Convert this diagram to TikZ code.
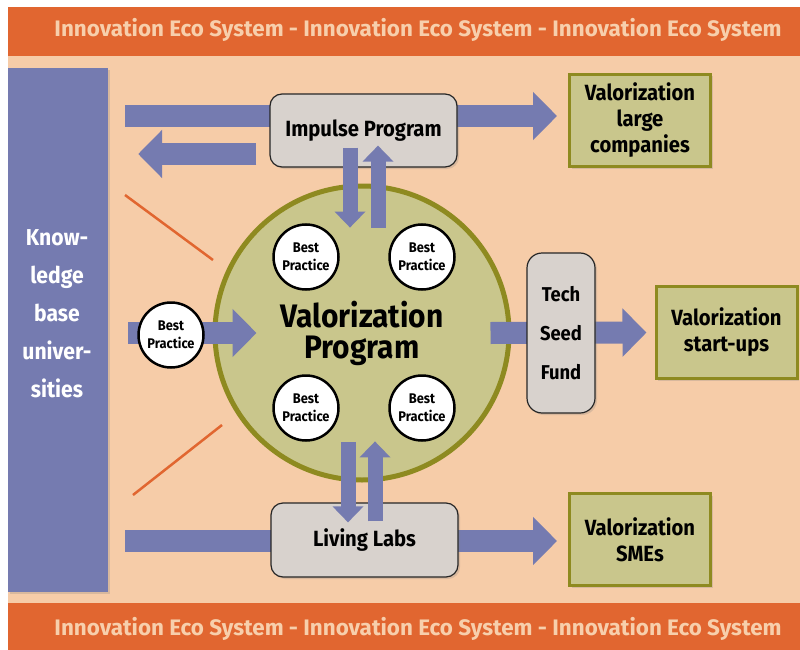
\documentclass[tikz,border=0pt]{standalone}
\usepackage{fontspec}
\setmainfont{Fira Sans}[FakeStretch=0.92]
\newfontfamily\bandfont{Fira Sans}
\usetikzlibrary{arrows.meta,shadows}
\definecolor{bandorange}{RGB}{225,102,48}
\definecolor{peach}{RGB}{246,204,168}
\definecolor{bandtext}{RGB}{247,207,172}
\definecolor{flowblue}{RGB}{117,123,176}
\definecolor{olivefill}{RGB}{201,198,140}
\definecolor{oliveline}{RGB}{142,138,32}
\definecolor{boxgray}{RGB}{216,210,205}
\pgfdeclarelayer{back}
\pgfdeclarelayer{mid}
\pgfdeclarelayer{flows}
\pgfsetlayers{back,mid,flows,main}

\begin{document}
\begin{tikzpicture}[x=1pt, y=-1pt,
  band/.style={text=bandtext, font=\bandfont\fontsize{22.4}{26}\selectfont\bfseries, inner sep=0},
  gbox/.style={draw=black!85, line width=1.2pt, fill=boxgray, rounded corners=12pt, align=center, font=\fontsize{22}{39}\selectfont\bfseries, drop shadow={opacity=0.25, shadow xshift=2pt, shadow yshift=-2pt}},
  obox/.style={draw=oliveline, line width=3pt, fill=olivefill, align=center, minimum width=141, minimum height=92, font=\fontsize{22}{26}\selectfont\bfseries, drop shadow={opacity=0.25, shadow xshift=2pt, shadow yshift=-2pt}},
  bp/.style={circle, draw=black, line width=2.5pt, fill=white, minimum size=65, inner sep=0, align=center, font=\fontsize{14}{18}\selectfont\bfseries},
  flowh/.style={draw=flowblue, line width=22pt, -{Triangle[length=24pt,width=47pt]}},
  flowv/.style={draw=flowblue, line width=15pt, -{Triangle[length=16pt,width=30pt]}},
  rayline/.style={draw=bandorange, line width=2.5pt}]
\useasboundingbox (0,0) rectangle (800,650);

\begin{pgfonlayer}{back}
\fill [white] (0,0) rectangle (800,650);
\fill [peach] (8,56) rectangle (800,604);
\fill [bandorange] (8,7) rectangle (800,56);
\fill [bandorange] (8,603) rectangle (800,650);
\node (TOP) at (418,29.5) [band] {Innovation Eco System - Innovation Eco System - Innovation Eco System};
\node (BOT) at (418,629) [band] {Innovation Eco System - Innovation Eco System - Innovation Eco System};
\node (KNOW) at (58,330) [fill=flowblue, minimum width=100, minimum height=524, inner sep=0, drop shadow={opacity=0.25, shadow xshift=2pt, shadow yshift=-2pt}] {};
\node (KNOWTXT) at (57,314) [text=white, align=center, font=\fontsize{23}{38}\selectfont\bfseries] {Know-\\ledge\\base\\univer-\\sities};
\draw [rayline] (125,195) -- (213,260);
\draw [rayline] (133,495) -- (222,425);
\end{pgfonlayer}

\begin{pgfonlayer}{mid}
\node (VP) at (362,333) [circle, draw=oliveline, line width=5pt, fill=olivefill, minimum size=294, align=center, font=\fontsize{32.5}{31}\selectfont\bfseries] {Valorization\\Program};
\end{pgfonlayer}

% boxes
\node (IMP) at (363.5,130.5) [gbox, minimum width=187, minimum height=73] {Impulse Program};
\node (LL) at (364.5,540) [gbox, minimum width=187, minimum height=74] {Living Labs};
\node (TSF) at (561,333) [gbox, rounded corners=15pt, font=\fontsize{20}{39}\selectfont\bfseries, minimum width=68, minimum height=160, inner sep=0] {Tech\\Seed\\Fund};
\node (VLC) at (640,120.5) [obox] {Valorization\\large\\companies};
\node (VSU) at (726.5,332.5) [obox] {Valorization\\start-ups};
\node (VSME) at (640,539.5) [obox] {Valorization\\SMEs};

% best practices
\node (BPL) at (171,335) [bp] {Best\\Practice};
\node (BP1) at (306,257) [bp] {Best\\Practice};
\node (BP2) at (422,257) [bp] {Best\\Practice};
\node (BP3) at (306,408) [bp] {Best\\Practice};
\node (BP4) at (422,408) [bp] {Best\\Practice};

\begin{pgfonlayer}{flows}
\draw [flowh, shorten <=17pt, shorten >=11pt] (KNOW.east |- 0,116) to (VLC.west |- 0,116);
\draw [flowh, shorten <=13pt, shorten >=30pt] (IMP.west |- 0,154) to (KNOW.east |- 0,154);
\draw [flowh, shorten <=20pt, shorten >=-44pt] (KNOW.east |- VP.west) to (VP.west);
\draw [flowh, shorten >=8pt] ([xshift=-21pt]VP.east) to (VSU.west);
\draw [flowh, shorten <=17pt, shorten >=11pt] (KNOW.east |- 0,541) to (VSME.west |- 0,541);
\end{pgfonlayer}

% up and down between the boxes and the program
\draw [flowv] ([xshift=-13.5pt, yshift=20pt]IMP.south) to ([xshift=-13.5pt, yshift=-60pt]IMP.south);
\draw [flowv] ([xshift=14.5pt, yshift=-60pt]IMP.south) to ([xshift=14.5pt, yshift=22pt]IMP.south);
\draw [flowv] ([xshift=-16.5pt, yshift=60pt]LL.north) to ([xshift=-16.5pt, yshift=-20pt]LL.north);
\draw [flowv] ([xshift=10.5pt, yshift=-19pt]LL.north) to ([xshift=10.5pt, yshift=61pt]LL.north);
\end{tikzpicture}
\end{document}
